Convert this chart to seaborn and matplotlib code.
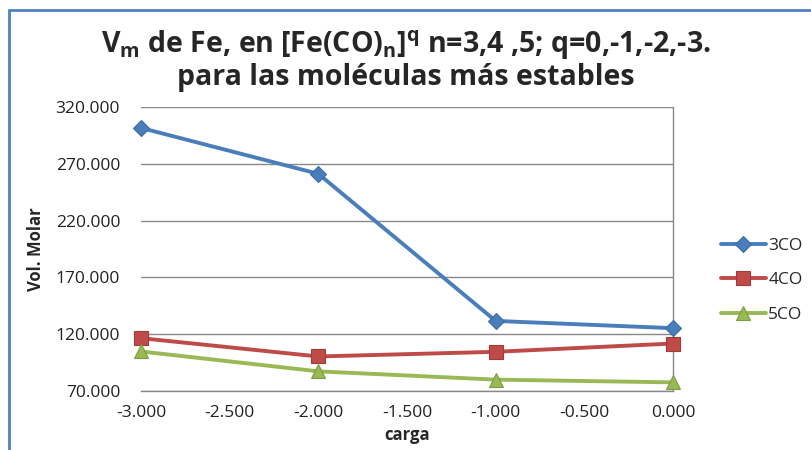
import matplotlib
matplotlib.use("Agg")
import matplotlib.pyplot as plt
import matplotlib.patches as mpatches
import seaborn as sns
import pandas as pd

charge = [-3.0, -2.0, -1.0, 0.0]
vm_3co = [301.6, 261.2, 131.7, 125.3]
vm_4co = [116.5, 100.4, 104.5, 111.8]
vm_5co = [104.8, 87.3, 80.0, 77.6]
series_names = ["3CO", "4CO", "5CO"]
y_ticks = [70, 120, 170, 220, 270, 320]
x_ticks = [-3.0, -2.5, -2.0, -1.5, -1.0, -0.5, 0.0]

sns.set_theme(style="white")
plt.rcParams["font.family"] = ["Open Sans", "DejaVu Sans"]

colors = {"3CO": "#4A7EBB", "4CO": "#BE4B48", "5CO": "#98B954"}
edges = {"3CO": "#3A6AA5", "4CO": "#A33A37", "5CO": "#7E9C40"}
markers = {"3CO": "D", "4CO": "s", "5CO": "^"}
msizes = {"3CO": 8, "4CO": 10, "5CO": 10}

df = pd.DataFrame({
    "carga": charge * 3,
    "vm": vm_3co + vm_4co + vm_5co,
    "serie": [s for s in series_names for _ in charge],
})

fig = plt.figure(figsize=(8.12, 4.5), dpi=100)
ax = fig.add_axes([0.1736, 0.1311, 0.6552, 0.6311])

# chart frame
fig.patches.append(mpatches.Rectangle((9 / 812, -0.1), 1.2, 1 - 10 / 450 + 0.1,
                                      transform=fig.transFigure, fill=False,
                                      edgecolor="#4F81BD", linewidth=2))

for s in series_names:
    sub = df[df["serie"] == s]
    sns.lineplot(data=sub, x="carga", y="vm", ax=ax, color=colors[s],
                 linewidth=2.8, marker=markers[s], markersize=msizes[s],
                 markerfacecolor=colors[s], markeredgecolor=edges[s],
                 markeredgewidth=0.8, label=s, zorder=3)

ax.set_xlim(-3.0, 0.0)
ax.set_ylim(70, 320)
ax.set_yticks(y_ticks)
ax.set_yticklabels([f"{v:.3f}" for v in y_ticks])
ax.set_xticks(x_ticks)
ax.set_xticklabels([f"{v:.3f}" for v in x_ticks])
ax.tick_params(axis="both", labelsize=12.5, colors="#222222")
ax.tick_params(axis="y", length=0, pad=15)
ax.tick_params(axis="x", length=5, width=1, direction="out", color="#888888", pad=5)

ax.grid(axis="y", color="#888888", linewidth=1)
ax.grid(axis="x", visible=False)
ax.axvline(0.0, color="#888888", linewidth=1, zorder=1)
for side in ["left", "top", "right"]:
    ax.spines[side].set_visible(False)
ax.spines["bottom"].set_color("#888888")
ax.spines["bottom"].set_linewidth(1)
for line in ax.lines:
    line.set_clip_on(False)

ax.set_xlabel("carga", fontsize=12, fontweight="bold", labelpad=4)
ax.set_ylabel("Vol. Molar", fontsize=12, fontweight="bold", labelpad=8)

fig.text(0.5, 0.90, r"V$_\mathregular{m}$ de Fe, en [Fe(CO)$_\mathregular{n}$]$^\mathregular{q}$ n=3,4 ,5; q=0,-1,-2,-3.",
         ha="center", va="center", fontsize=20.5, fontweight="bold")
fig.text(0.5, 0.828, "para las moléculas más estables",
         ha="center", va="center", fontsize=20.5, fontweight="bold")

leg = ax.legend(loc="center left", bbox_to_anchor=(1.06, 0.39), frameon=False,
                fontsize=12.5, handlelength=2.6, labelspacing=1.05, handletextpad=0.15)

fig.savefig("out.png", dpi=100)
